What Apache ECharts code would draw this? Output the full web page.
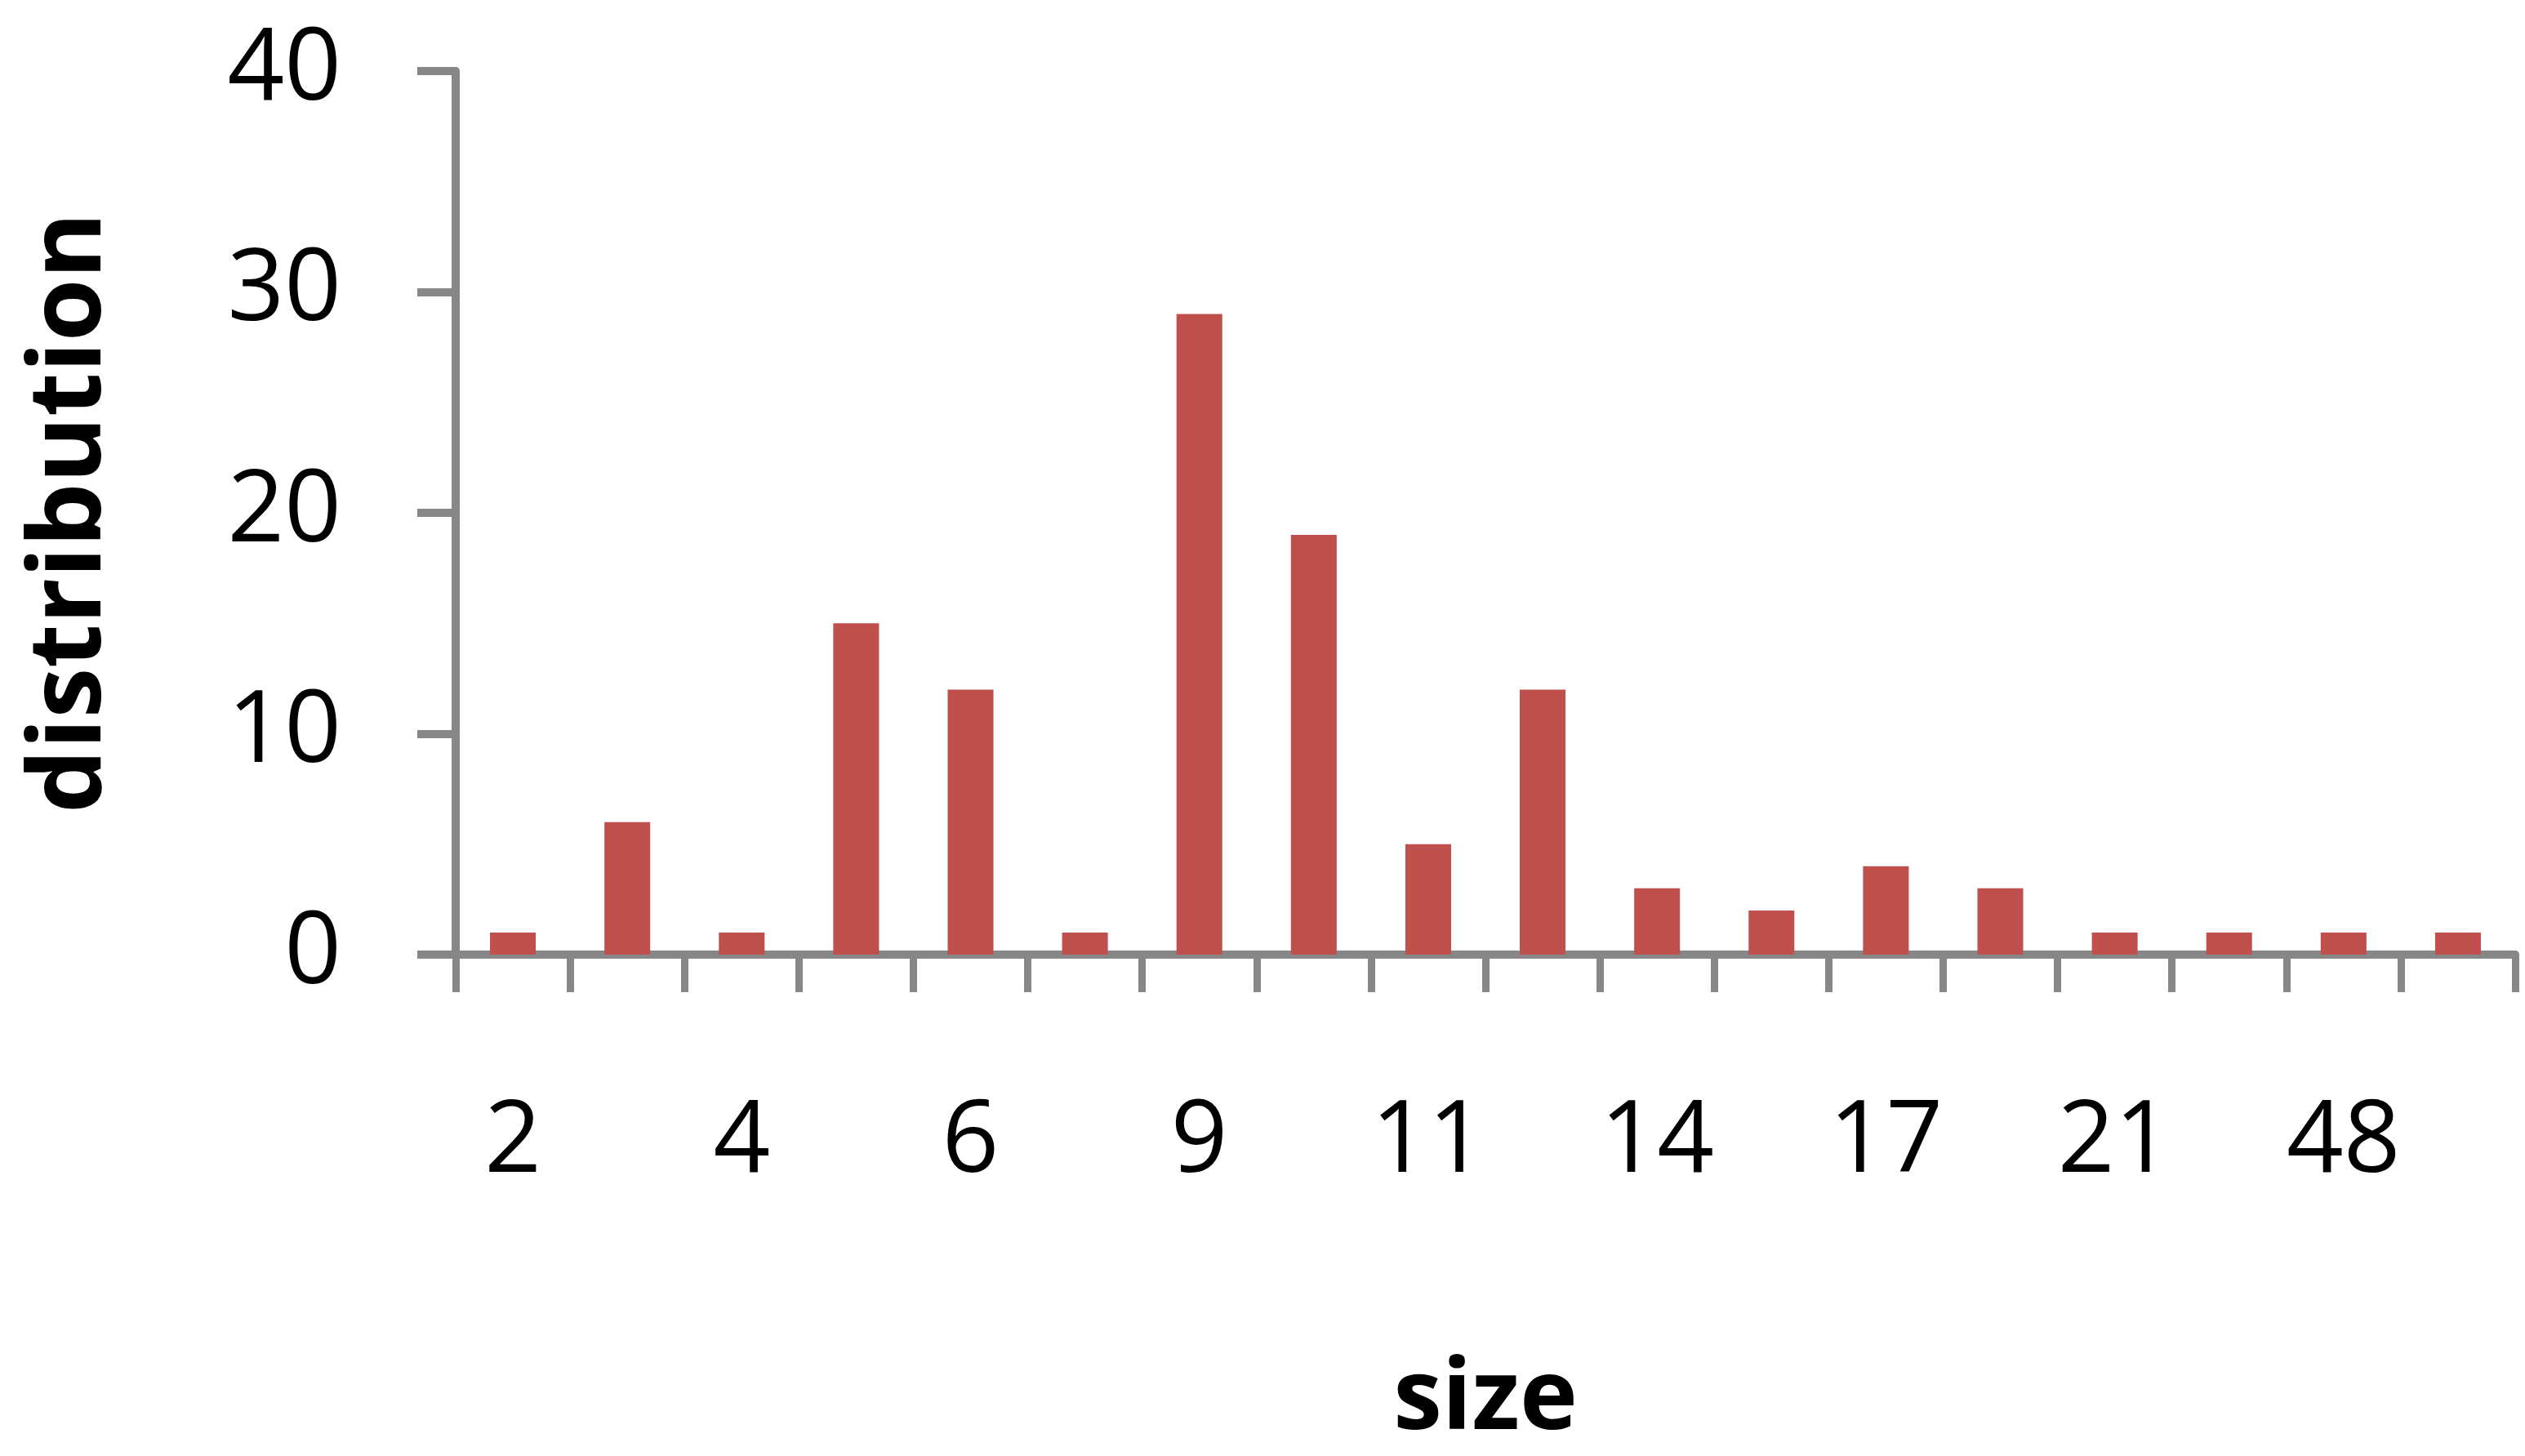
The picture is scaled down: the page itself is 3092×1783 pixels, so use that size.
<!DOCTYPE html>
<html>
<head>
<meta charset="utf-8">
<script src="https://cdn.jsdelivr.net/npm/echarts@6/dist/echarts.min.js"></script>
<style>
html,body{margin:0;padding:0;background:#fff;}
#chart{width:3092px;height:1783px;}
</style>
</head>
<body>
<div id="chart"></div>
<script>
const categories = ['2','3','4','5','6','8','9','10','11','12','14','15','17','19','21','25','48','52'];
const values = [1,6,1,15,12,1,29,19,5,12,3,2,4,3,1,1,1,1];
const yMin = 0, yMax = 40, yInterval = 10;
const xAxisName = 'size';
const yAxisName = 'distribution';

const axisGray = '#878787';
const font = '"Open Sans", "Noto Sans", sans-serif';

const chart = echarts.init(document.getElementById('chart'), null, {renderer: 'canvas'});
chart.setOption({
  animation: false,
  backgroundColor: '#ffffff',
  grid: {left: 558, right: 12, top: 87, bottom: 614, containLabel: false, outerBoundsMode: 'none'},
  xAxis: {
    type: 'category',
    data: categories,
    boundaryGap: true,
    name: xAxisName,
    nameLocation: 'middle',
    nameGap: 487,
    nameTextStyle: {fontFamily: font, fontWeight: 'bold', fontSize: 120, color: '#000'},
    axisLine: {show: true, lineStyle: {color: axisGray, width: 10}},
    axisTick: {show: true, interval: 0, alignWithLabel: false, length: 46, lineStyle: {color: axisGray, width: 9}},
    axisLabel: {interval: 1, margin: 170, fontFamily: font, fontSize: 122, color: '#000', lineHeight: 122},
    splitLine: {show: false}
  },
  yAxis: {
    type: 'value',
    min: yMin, max: yMax, interval: yInterval,
    name: yAxisName,
    nameLocation: 'middle',
    nameGap: 408,
    nameRotate: 90,
    nameTextStyle: {fontFamily: font, fontWeight: 'bold', fontSize: 124, color: '#000'},
    axisLine: {show: true, lineStyle: {color: axisGray, width: 10}},
    axisTick: {show: true, length: 47, lineStyle: {color: axisGray, width: 10}},
    axisLabel: {margin: 140, fontFamily: font, fontSize: 122, color: '#000'},
    splitLine: {show: false}
  },
  series: [{
    type: 'bar',
    data: values,
    barCategoryGap: '60%',
    itemStyle: {color: '#C0504D'}
  }]
});
</script>
</body>
</html>
